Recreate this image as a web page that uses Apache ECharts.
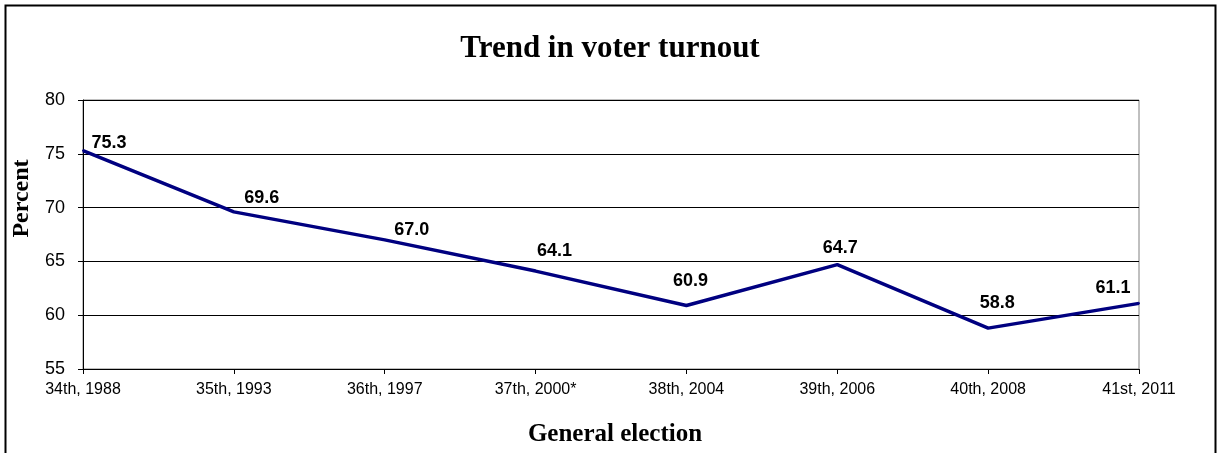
<!DOCTYPE html>
<html><head><meta charset="utf-8">
<script src="https://cdn.jsdelivr.net/npm/echarts@6/dist/echarts.min.js"></script>
<style>html,body{margin:0;padding:0;background:#fff}#c{width:1220px;height:453px}</style>
</head><body><div id="c"></div>
<script>
const categories = ["34th, 1988","35th, 1993","36th, 1997","37th, 2000*","38th, 2004","39th, 2006","40th, 2008","41st, 2011"];
const turnout = [75.3, 69.6, 67.0, 64.1, 60.9, 64.7, 58.8, 61.1];
const yTicks = [55, 60, 65, 70, 75, 80];
// label placement (pixel offsets of the label centre from its point), as in the reference
const labelOffsets = [[26, -8], [28, -14], [27, -10], [19, -20], [4, -24], [3, -17], [9, -25], [-26, -15]];

const chart = echarts.init(document.getElementById('c'), null, {renderer: 'canvas'});
const SYM = 2;
const seriesData = turnout.map((v, i) => ({
  value: v,
  label: {position: [SYM / 2 + labelOffsets[i][0], SYM / 2 + labelOffsets[i][1]], align: 'center', verticalAlign: 'middle'}
}));
chart.setOption({
  animation: false,
  backgroundColor: '#fff',
  title: {
    text: 'Trend in voter turnout', left: 'center', top: 28,
    textStyle: {fontFamily: 'Liberation Serif', fontWeight: 'bold', fontSize: 31, color: '#000'}
  },
  graphic: [{
    type: 'rect', shape: {x: 5.5, y: 5.5, width: 1210, height: 460},
    style: {fill: 'none', stroke: '#000', lineWidth: 2}, silent: true
  }],
  grid: {left: 83, right: 81, top: 100, bottom: 84, show: true, borderColor: '#808080', borderWidth: 1,
         containLabel: false, outerBoundsMode: 'none'},
  xAxis: {
    type: 'category', data: categories, boundaryGap: false,
    axisLine: {show: true, lineStyle: {color: '#000', width: 1}},
    axisTick: {show: true, length: 5, inside: false, alignWithLabel: true, lineStyle: {color: '#000'}},
    axisLabel: {margin: 13, color: '#000', fontFamily: 'Liberation Sans', fontSize: 16, interval: 0},
    splitLine: {show: false},
    name: 'General election', nameLocation: 'middle', nameGap: 53,
    nameTextStyle: {fontFamily: 'Liberation Serif', fontWeight: 'bold', fontSize: 25, color: '#000',
                    padding: [0, 0, 0, 8]}
  },
  yAxis: {
    type: 'value', min: yTicks[0], max: yTicks[yTicks.length - 1], interval: 5,
    axisLine: {show: true, lineStyle: {color: '#000', width: 1}},
    axisTick: {show: true, length: 5, lineStyle: {color: '#000'}},
    axisLabel: {margin: 18, color: '#000', fontFamily: 'Liberation Sans', fontSize: 18},
    splitLine: {show: true, lineStyle: {color: '#000', width: 1}},
    name: 'Percent', nameLocation: 'middle', nameGap: 48, nameRotate: 90,
    nameTextStyle: {fontFamily: 'Liberation Serif', fontWeight: 'bold', fontSize: 24, color: '#000',
                    padding: [0, 0, 0, 72]}
  },
  series: [{
    type: 'line', data: seriesData, symbol: 'circle', symbolSize: SYM, showSymbol: true,
    itemStyle: {color: '#000080'},
    lineStyle: {color: '#000080', width: 3.5},
    label: {
      show: true,
      formatter: p => Number(p.value).toFixed(1),
      fontFamily: 'Liberation Sans', fontWeight: 'bold', fontSize: 18, color: '#000'
    },
    labelLayout: {hideOverlap: false}
  }]
});
</script></body></html>
